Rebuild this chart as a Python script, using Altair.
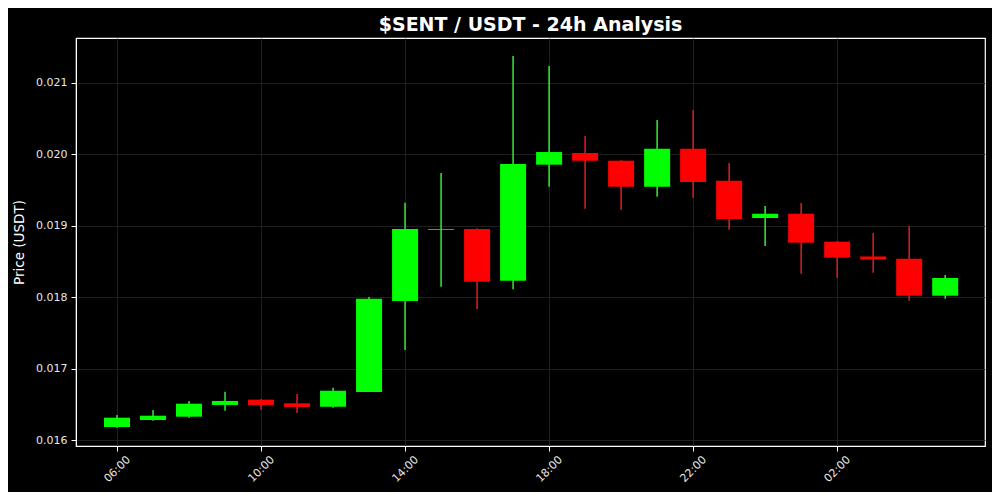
import altair as alt
import pandas as pd

# Hourly candles, 06:00 -> 05:00 next day (UTC)
times = [t.strftime("%Y-%m-%dT%H:%M:%SZ") for t in pd.date_range("2024-01-01 06:00", periods=24, freq="h")]

opens = [0.016186, 0.016284, 0.016330, 0.016494, 0.016568, 0.016517, 0.016470, 0.016676,
         0.017948, 0.018944, 0.018955, 0.018232, 0.019855, 0.020018, 0.019911, 0.019547,
         0.020078, 0.019631, 0.019109, 0.019169, 0.018778, 0.018571, 0.018540, 0.018022]
closes = [0.016316, 0.016344, 0.016512, 0.016550, 0.016494, 0.016466, 0.016694, 0.017980,
          0.018955, 0.018956, 0.018218, 0.019864, 0.020032, 0.019911, 0.019547, 0.020078,
          0.019613, 0.019095, 0.019169, 0.018764, 0.018554, 0.018529, 0.018022, 0.018270]
highs = [0.016354, 0.016424, 0.016550, 0.016680, 0.016578, 0.016648, 0.016736, 0.018004,
         0.019323, 0.019738, 0.018965, 0.021375, 0.021235, 0.020256, 0.019916, 0.020480,
         0.020620, 0.019878, 0.019277, 0.019319, 0.018787, 0.018899, 0.018997, 0.018312]
lows = [0.016176, 0.016274, 0.016316, 0.016414, 0.016428, 0.016382, 0.016456, 0.016676,
        0.017263, 0.018148, 0.017836, 0.018112, 0.019547, 0.019239, 0.019225, 0.019407,
        0.019393, 0.018945, 0.018717, 0.018330, 0.018274, 0.018344, 0.017952, 0.017980]

y_ticks = [0.016, 0.017, 0.018, 0.019, 0.020, 0.021]
x_tick_hours = [(1, 6), (1, 10), (1, 14), (1, 18), (1, 22), (2, 2)]

df = pd.DataFrame({"time": times, "open": opens, "close": closes, "high": highs, "low": lows})

x_enc = alt.X(
    "time:T",
    scale=alt.Scale(
        type="utc",
        nice=False,
        domain=[alt.DateTime(year=2024, month=1, date=1, hours=5, utc=True),
                alt.DateTime(year=2024, month=1, date=2, hours=5, minutes=58, utc=True)],
    ),
    axis=alt.Axis(
        title=None,
        values=[alt.DateTime(year=2024, month=1, date=d, hours=h, utc=True) for d, h in x_tick_hours],
        format="%H:%M",
        labelAngle=-45,
        labelAlign="center",
        labelBaseline="middle",
        labelPadding=18,
        tickSize=5,
    ),
)

y_scale = alt.Scale(domain=[0.01592, 0.021627], nice=False, zero=False)
y_axis = alt.Axis(
    title="Price (USDT)",
    values=y_ticks,
    format=".3f",
    tickSize=5,
    labelPadding=4,
    titlePadding=9,
)

base = alt.Chart(df).encode(x=x_enc)

wicks = base.mark_rule(strokeWidth=1.6).encode(
    y=alt.Y("low:Q", scale=y_scale, axis=y_axis),
    y2="high:Q",
    color=alt.condition("datum.close >= datum.open", alt.value("#33dd33"), alt.value("#cc1f1f")),
)

bodies = base.mark_bar(size=26).encode(
    y=alt.Y("open:Q", scale=y_scale, axis=y_axis),
    y2="close:Q",
    color=alt.condition("datum.close >= datum.open", alt.value("#00ff00"), alt.value("#ff0000")),
)

chart = (
    alt.layer(wicks, bodies)
    .properties(
        width=909,
        height=408,
        autosize=alt.AutoSizeParams(type="none"),
        padding={"left": 68, "top": 30, "right": 7, "bottom": 46},
        background="#000000",
        title=alt.TitleParams(
            "$SENT / USDT - 24h Analysis",
            fontSize=19,
            fontWeight="bold",
            color="#ffffff",
            font="DejaVu Sans",
            anchor="middle",
            frame="group",
            offset=3,
        ),
    )
    .configure_view(fill="#000000", stroke="#ffffff", strokeWidth=1.2)
    .configure_axis(
        domainColor="#ffffff",
        tickColor="#ffffff",
        labelColor="#e6e6e6",
        labelFont="DejaVu Sans",
        labelFontSize=11,
        titleFont="DejaVu Sans",
        titleFontSize=13.5,
        titleFontWeight="normal",
        titleColor="#ffffff",
        gridColor="#262626",
        gridWidth=0.8,
    )
)

chart.save("out.html", embed_options={"renderer": "svg", "actions": False})
